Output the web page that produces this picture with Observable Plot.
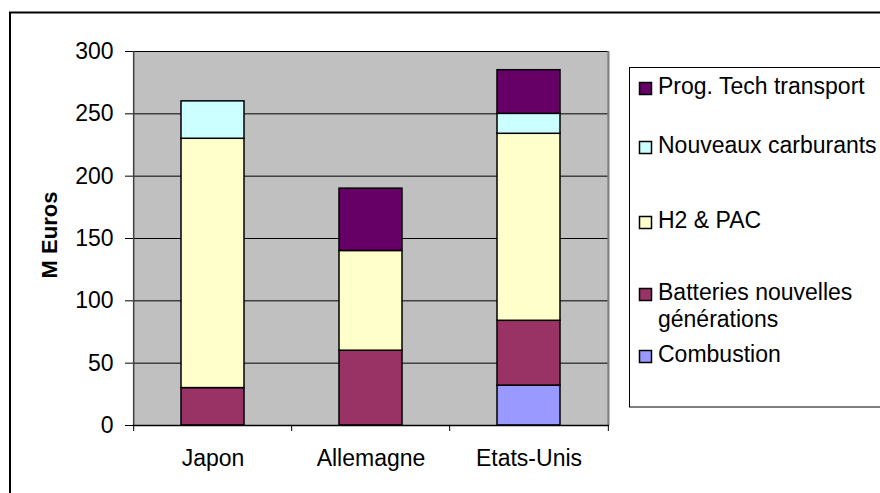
<!DOCTYPE html>
<html><head><meta charset="utf-8">
<script src="https://cdn.jsdelivr.net/npm/d3@7"></script>
<script src="https://cdn.jsdelivr.net/npm/@observablehq/plot@0.6"></script>
<style>body{margin:0;background:#fff}</style>
</head><body><div id="chart"></div>
<script>
// ---- data ----
const categories = ["Japon", "Allemagne", "Etats-Unis"];
const seriesNames = ["Combustion", "Batteries nouvelles générations", "H2 & PAC", "Nouveaux carburants", "Prog. Tech transport"];
const seriesColors = ["#9999ff", "#993366", "#ffffcc", "#ccffff", "#660066"];
const combustion = [0, 0, 32];
const batteries = [30, 60, 52];
const h2pac = [200, 80, 150];
const nouveauxCarburants = [30, 0, 16];
const progTech = [0, 50, 35];
const yTicks = [0, 50, 100, 150, 200, 250, 300];
const yLabel = "M Euros";
const legendLines = [
  ["Prog. Tech transport"],
  ["Nouveaux carburants"],
  ["H2 & PAC"],
  ["Batteries nouvelles", "générations"],
  ["Combustion"]
];
const legendSeries = ["Prog. Tech transport", "Nouveaux carburants", "H2 & PAC", "Batteries nouvelles générations", "Combustion"];

const values = [combustion, batteries, h2pac, nouveauxCarburants, progTech];
const rows = [];
seriesNames.forEach((s, i) => categories.forEach((c, j) => {
  if (values[i][j] > 0) rows.push({country: c, series: s, value: values[i][j]});
}));

// ---- layout ----
const W = 880, H = 493, ML = 133, MR = 271, MT = 51, MB = 68;
const FS = 23;
const step = (W - ML - MR) / categories.length;
const last = categories[categories.length - 1];

const chart = Plot.plot({
  width: W, height: H,
  marginLeft: ML, marginRight: MR, marginTop: MT, marginBottom: MB,
  style: {fontFamily: "'Liberation Sans', Arial, sans-serif", fontSize: FS + "px", color: "#000", background: "#fff"},
  x: {domain: categories, paddingInner: 0.6, paddingOuter: 0.3},
  y: {domain: [0, 300]},
  color: {domain: seriesNames, range: seriesColors},
  marks: [
    Plot.frame({fill: "#c0c0c0", stroke: null}),
    Plot.ruleY(yTicks.filter(t => t > 0), {stroke: "#000", strokeWidth: 1}),
    Plot.ruleX([last], {dx: step / 2, stroke: "#808080", strokeWidth: 2}),
    Plot.barY(rows, {x: "country", y: "value", fill: "series", stroke: "#000", strokeWidth: 1.5}),
    Plot.axisY({ticks: yTicks, tickSize: 8, tickPadding: 12, label: null, stroke: "#000", fontSize: FS}),
    Plot.ruleX([categories[0]], {dx: -step / 2, stroke: "#404040", strokeWidth: 1.5}),
    Plot.ruleY([0], {stroke: "#000", strokeWidth: 1.5}),
    Plot.axisX({tickSize: 0, tickPadding: 24, label: null, fontSize: FS}),
    Plot.ruleX(categories, {dx: -step / 2, y1: 0, y2: 0, insetBottom: -6, stroke: "#000"}),
    Plot.ruleX([last], {dx: step / 2, y1: 0, y2: 0, insetBottom: -6, stroke: "#000"})
  ]
});

const svg = d3.select(chart);
// outer chart border
svg.append("rect").attr("x", 10).attr("y", 12.5).attr("width", 900).attr("height", 520)
  .attr("fill", "none").attr("stroke", "#000").attr("stroke-width", 2);
// y axis title
svg.append("text").attr("transform", "translate(57,235) rotate(-90)")
  .attr("text-anchor", "middle").attr("font-weight", "bold").attr("font-size", 22)
  .attr("fill", "#000").text(yLabel);
// legend
const color = chart.scale("color");
const lg = svg.append("g").attr("text-anchor", "start");
lg.append("rect").attr("x", 629.5).attr("y", 67.5).attr("width", 300).attr("height", 339.5)
  .attr("fill", "#fff").attr("stroke", "#000").attr("stroke-width", 1);
const swatchY = [82, 141, 216, 288, 350];
legendSeries.forEach((s, i) => {
  lg.append("rect").attr("x", 639.5).attr("y", swatchY[i] + 0.5).attr("width", 12).attr("height", 12)
    .attr("fill", color.apply(s)).attr("stroke", "#000").attr("stroke-width", 1.5);
  legendLines[i].forEach((line, k) => {
    lg.append("text").attr("x", 658).attr("y", swatchY[i] + 12 + k * 27)
      .attr("text-anchor", "start").attr("font-size", FS).attr("fill", "#000").text(line);
  });
});

document.getElementById("chart").appendChild(chart);
</script>
</body></html>
